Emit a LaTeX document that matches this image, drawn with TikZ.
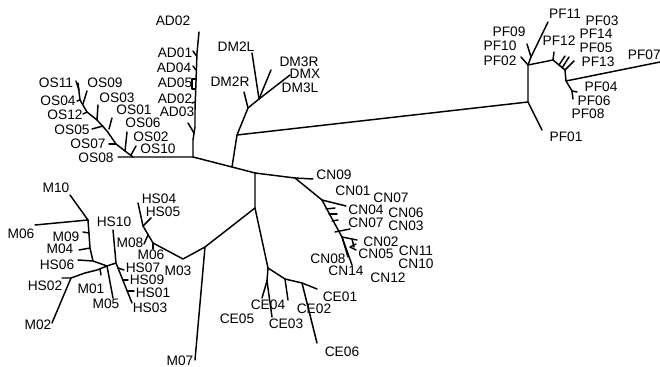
\documentclass[tikz,border=0pt]{standalone}
\usepackage{fontspec}
\newfontfamily\lbfont{Liberation Sans}
\begin{document}
\begin{tikzpicture}[x=0.75pt,y=-0.75pt,
  br/.style={line width=1.1pt,line join=round,line cap=round},
  lbl/.style={font=\lbfont\fontsize{10.3}{12}\selectfont,inner sep=0pt}]
\useasboundingbox (0,0) rectangle (660,367);
% ---------- backbone ----------
\coordinate (c1) at (193,157);
\coordinate (c2) at (232,167);
\coordinate (c3) at (255,173);
\coordinate (c4) at (295,178);
\coordinate (tCN09) at (313,179);
\coordinate (osj) at (133,157);
\coordinate (tOS08) at (118,157);
\draw[br] (tOS08) -- (osj) -- (c1) -- (c2) -- (c3) -- (c4) -- (tCN09);
% ---------- AD ----------
\coordinate (a1) at (193,140);
\coordinate (a2) at (195,127);
\coordinate (a3) at (195,110);
\coordinate (a4) at (197,53);
\coordinate (tAD02a) at (199,32);
\draw[br] (c1) -- (a1) -- (a2) -- (a3) -- (a4) -- (tAD02a);
\coordinate (bAD01) at (196.5,56); \coordinate (tAD01) at (193,51);
\coordinate (bAD04) at (196,70); \coordinate (tAD04) at (193,66);
\coordinate (bAD05a) at (195.5,79); \coordinate (kAD05a) at (192,79);
\coordinate (kAD05b) at (192,89); \coordinate (bAD05b) at (195.5,89);
\coordinate (bAD02) at (195,102); \coordinate (tAD02) at (192,103);
\coordinate (bAD03) at (194,133); \coordinate (tAD03) at (188,123);
\draw[br] (bAD01) -- (tAD01);
\draw[br] (bAD04) -- (tAD04);
\draw[br] (bAD05a) -- (kAD05a) -- (kAD05b) -- (bAD05b);
\draw[br] (bAD02) -- (tAD02);
\draw[br] (bAD03) -- (tAD03);
\node[lbl] (lAD02a) at (173,21) {AD02};
\node[lbl] (lAD01) at (175,53) {AD01};
\node[lbl] (lAD04) at (174,68) {AD04};
\node[lbl] (lAD05) at (175,83) {AD05};
\node[lbl] (lAD02) at (175,99) {AD02};
\node[lbl] (lAD03) at (177,112) {AD03};
% ---------- DM ----------
\coordinate (dm1) at (237,135);
\coordinate (dm2) at (248,108);
\coordinate (dm3) at (259,99);
\coordinate (tDM2R) at (244,92);
\coordinate (tDM2L) at (252,53);
\coordinate (tDM3R) at (271,70);
\coordinate (tDMX) at (290,75);
\draw[br] (c2) -- (dm1) -- (dm2) -- (dm3) -- (tDMX);
\draw[br] (dm2) -- (tDM2R);
\draw[br] (dm3) -- (tDM2L);
\draw[br] (dm3) -- (tDM3R);
\node[lbl] (lDM2L) at (236,47) {DM2L};
\node[lbl] (lDM2R) at (230,82) {DM2R};
\node[lbl] (lDM3R) at (299,62) {DM3R};
\node[lbl] (lDMX) at (305,74) {DMX};
\node[lbl] (lDM3L) at (300,88) {DM3L};
% ---------- PF ----------
\coordinate (pfj) at (528,102);
\coordinate (tPF01) at (542,130);
\coordinate (pfa) at (528,65);
\coordinate (pfb) at (531,57);
\coordinate (tPF11) at (548,22);
\coordinate (tPF09) at (527,44);
\coordinate (tPF10) at (521,57);
\coordinate (pfc) at (553,60);
\coordinate (pfd) at (565,70);
\coordinate (pfe) at (566,81);
\coordinate (tPF07) at (660,62);
\coordinate (tPF12) at (554,52);
\coordinate (b1) at (559,65); \coordinate (t1) at (565,56);
\coordinate (b2) at (562,68); \coordinate (t2) at (569,57);
\coordinate (b3) at (565,70); \coordinate (t3) at (574,61);
\coordinate (pff) at (572,91);
\coordinate (tPF04) at (577,92);
\coordinate (tPF06) at (573,99);
\draw[br] (dm1) -- (pfj) -- (tPF01);
\draw[br] (pfj) -- (pfa) -- (pfb) -- (tPF11);
\draw[br] (pfb) -- (tPF09);
\draw[br] (pfa) -- (tPF10);
\draw[br] (pfa) -- (pfc) -- (pfd) -- (pfe) -- (tPF07);
\draw[br] (pfc) -- (tPF12);
\draw[br] (b1) -- (t1);
\draw[br] (b2) -- (t2);
\draw[br] (b3) -- (t3);
\draw[br] (pfe) -- (pff) -- (tPF04);
\draw[br] (pff) -- (tPF06);
\node[lbl] (lPF11) at (565,14) {PF11};
\node[lbl] (lPF03) at (602,21) {PF03};
\node[lbl] (lPF09) at (509,32) {PF09};
\node[lbl] (lPF14) at (596,34) {PF14};
\node[lbl] (lPF10) at (500,46) {PF10};
\node[lbl] (lPF12) at (559,41) {PF12};
\node[lbl] (lPF05) at (596,48) {PF05};
\node[lbl] (lPF02) at (500,61) {PF02};
\node[lbl] (lPF13) at (598,62) {PF13};
\node[lbl,anchor=east] (lPF07) at (661,55) {PF07};
\node[lbl] (lPF04) at (601,87) {PF04};
\node[lbl] (lPF06) at (594,101) {PF06};
\node[lbl] (lPF08) at (588,114) {PF08};
\node[lbl] (lPF01) at (566,137) {PF01};
% ---------- OS ----------
\coordinate (o1) at (125,151);
\coordinate (o2) at (116,144);
\coordinate (o3) at (107,131);
\coordinate (o4) at (97,120);
\coordinate (o5) at (87,112);
\coordinate (o6) at (80,100);
\coordinate (tOS11) at (78,83);
\coordinate (bOS10) at (131,155); \coordinate (tOS10) at (136,146);
\coordinate (tOS02) at (127,132);
\coordinate (tOS07) at (109,144);
\coordinate (bOS01) at (109,129); \coordinate (tOS01) at (112,118);
\coordinate (bOS05) at (103,126); \coordinate (tOS05) at (92,129);
\coordinate (bOS03) at (97,120); \coordinate (tOS03) at (98,105);
\coordinate (tOS12) at (83,114);
\coordinate (bOS09) at (83,104); \coordinate (tOS09) at (87,91);
\coordinate (tOS04) at (77,101);
\coordinate (bOS11) at (79,90); \coordinate (tOS11b) at (76,81);
\draw[br] (osj) -- (o1) -- (o2) -- (o3) -- (o4) -- (o5) -- (o6) -- (tOS11);
\draw[br] (bOS10) -- (tOS10);
\draw[br] (o1) -- (tOS02);
\draw[br] (o2) -- (tOS07);
\draw[br] (bOS01) -- (tOS01);
\draw[br] (bOS05) -- (tOS05);
\draw[br] (bOS03) -- (tOS03);
\draw[br] (o5) -- (tOS12);
\draw[br] (bOS09) -- (tOS09);
\draw[br] (o6) -- (tOS04);
\draw[br] (bOS11) -- (tOS11b);
\node[lbl] (lOS11) at (56,83) {OS11};
\node[lbl] (lOS09) at (105,83) {OS09};
\node[lbl] (lOS04) at (58,101) {OS04};
\node[lbl] (lOS03) at (117,98) {OS03};
\node[lbl] (lOS12) at (65,115) {OS12};
\node[lbl] (lOS01) at (134,110) {OS01};
\node[lbl] (lOS05) at (72,130) {OS05};
\node[lbl] (lOS06) at (143,123) {OS06};
\node[lbl] (lOS02) at (151,137) {OS02};
\node[lbl] (lOS07) at (88,144) {OS07};
\node[lbl] (lOS10) at (158,149) {OS10};
\node[lbl] (lOS08) at (96,158) {OS08};
% ---------- CN ----------
\coordinate (cna) at (322,200);
\coordinate (cnb) at (330,215);
\coordinate (cnc) at (342,237);
\coordinate (tCN08) at (348,257);
\coordinate (tCN14) at (352,265);
\coordinate (tCN01) at (346,206);
\coordinate (k1b) at (326,209); \coordinate (k1t) at (335,208);
\coordinate (k2b) at (329,214); \coordinate (k2t) at (337,214);
\coordinate (k3b) at (332,221); \coordinate (k3t) at (338,220);
\coordinate (bCN07) at (335,232); \coordinate (tCN07) at (350,229);
\coordinate (tCN02) at (357,240);
\coordinate (m1b) at (352,239); \coordinate (m1t) at (354,247);
\coordinate (m2a) at (356,244); \coordinate (m2b) at (350,247); \coordinate (m2c) at (356,250);
\draw[br] (c4) -- (cna) -- (cnb) -- (cnc) -- (tCN08);
\draw[br] (cnc) -- (tCN14);
\draw[br] (cna) -- (tCN01);
\draw[br] (k1b) -- (k1t);
\draw[br] (k2b) -- (k2t);
\draw[br] (k3b) -- (k3t);
\draw[br] (bCN07) -- (tCN07);
\draw[br] (cnc) -- (tCN02);
\draw[br] (m1b) -- (m1t);
\draw[br] (m2a) -- (m2b) -- (m2c);
\node[lbl] (lCN09) at (334,175) {CN09};
\node[lbl] (lCN01) at (353,191) {CN01};
\node[lbl] (lCN07a) at (391,198) {CN07};
\node[lbl] (lCN04) at (366,210) {CN04};
\node[lbl] (lCN06) at (406,213) {CN06};
\node[lbl] (lCN07b) at (366,223) {CN07};
\node[lbl] (lCN03) at (406,226) {CN03};
\node[lbl] (lCN02) at (381,242) {CN02};
\node[lbl] (lCN05) at (376,254) {CN05};
\node[lbl] (lCN11) at (416,251) {CN11};
\node[lbl] (lCN10) at (416,264) {CN10};
\node[lbl] (lCN12) at (388,278) {CN12};
\node[lbl] (lCN08) at (328,259) {CN08};
\node[lbl] (lCN14) at (346,271) {CN14};
% ---------- CE ----------
\coordinate (ce0) at (255,208);
\coordinate (cej) at (268,268);
\coordinate (cem) at (267,281);
\coordinate (cek) at (285,279);
\coordinate (cel) at (302,283);
\coordinate (tCE01) at (317,289);
\coordinate (tCE06) at (317,343);
\coordinate (tCE02) at (288,300);
\coordinate (tCE04) at (262,298);
\coordinate (tCE03) at (272,317);
\draw[br] (c3) -- (ce0) -- (cej) -- (cem) -- (tCE04);
\draw[br] (cem) -- (tCE03);
\draw[br] (cej) -- (cek) -- (cel) -- (tCE01);
\draw[br] (cel) -- (tCE06);
\draw[br] (cek) -- (tCE02);
\node[lbl] (lCE01) at (340,297) {CE01};
\node[lbl] (lCE02) at (314,309) {CE02};
\node[lbl] (lCE04) at (268,305) {CE04};
\node[lbl] (lCE05) at (237,319) {CE05};
\node[lbl] (lCE03) at (286,324) {CE03};
\node[lbl] (lCE06) at (342,352) {CE06};
% ---------- M03 group ----------
\coordinate (mj) at (205,247);
\coordinate (m03j) at (183,259);
\coordinate (tM07) at (195,360);
\coordinate (hsa) at (153,243);
\coordinate (hsb) at (143,226);
\coordinate (tHS04) at (138,203);
\coordinate (tHS05) at (151,218);
\coordinate (tM06b) at (153,249);
\coordinate (bM08) at (148,235); \coordinate (tM08) at (144,244);
\draw[br] (ce0) -- (mj) -- (m03j) -- (hsa) -- (hsb) -- (tHS04);
\draw[br] (mj) -- (tM07);
\draw[br] (hsb) -- (tHS05);
\draw[br] (hsa) -- (tM06b);
\draw[br] (bM08) -- (tM08);
\node[lbl] (lM07) at (180,361) {M07};
\node[lbl] (lM03) at (178,271) {M03};
\node[lbl] (lHS04) at (159,199) {HS04};
\node[lbl] (lHS05) at (163,212) {HS05};
\node[lbl] (lM08) at (130,243) {M08};
\node[lbl] (lM06b) at (151,254.5) {M06};
% ---------- HS / M left group ----------
\coordinate (lj1) at (88,220);
\coordinate (tM10) at (70,195);
\coordinate (tM06) at (35,225);
\coordinate (v1) at (90,248);
\coordinate (v2) at (93,261);
\coordinate (J1) at (107,266);
\coordinate (hsj) at (116,263);
\coordinate (tHS10) at (113,230);
\coordinate (tHS03) at (132,303);
\coordinate (bHS07) at (118,268); \coordinate (tHS07) at (124,270);
\coordinate (bHS09) at (123,280); \coordinate (tHS09) at (128,280);
\coordinate (bHS01) at (127,291); \coordinate (tHS01) at (134,291);
\coordinate (bM09) at (89,233); \coordinate (tM09) at (83,232);
\coordinate (tM04) at (79,250);
\coordinate (tHS06) at (78,260);
\coordinate (w1) at (97,270);
\coordinate (w2) at (85,273);
\coordinate (w3) at (71,278);
\coordinate (tHS02) at (62,278);
\coordinate (tM02) at (52,323);
\coordinate (bM01) at (100,269); \coordinate (tM01) at (101,275);
\coordinate (tM05) at (113,298);
\draw[br] (tM10) -- (lj1) -- (tM06);
\draw[br] (lj1) -- (v1) -- (v2) -- (J1) -- (hsj) -- (tHS03);
\draw[br] (hsj) -- (tHS10);
\draw[br] (bHS07) -- (tHS07);
\draw[br] (bHS09) -- (tHS09);
\draw[br] (bHS01) -- (tHS01);
\draw[br] (bM09) -- (tM09);
\draw[br] (v1) -- (tM04);
\draw[br] (v2) -- (tHS06);
\draw[br] (J1) -- (w1) -- (w2) -- (w3) -- (tHS02);
\draw[br] (w3) -- (tM02);
\draw[br] (bM01) -- (tM01);
\draw[br] (J1) -- (tM05);
\node[lbl] (lM10) at (56,188) {M10};
\node[lbl] (lHS10) at (114,222) {HS10};
\node[lbl] (lM06) at (21,234) {M06};
\node[lbl] (lM09) at (66,237) {M09};
\node[lbl] (lM04) at (60,249) {M04};
\node[lbl] (lHS06) at (57,265) {HS06};
\node[lbl] (lHS07) at (143,268) {HS07};
\node[lbl] (lHS09) at (147,280) {HS09};
\node[lbl] (lHS01) at (153,293) {HS01};
\node[lbl] (lHS03) at (150,308) {HS03};
\node[lbl] (lHS02) at (45,286) {HS02};
\node[lbl] (lM01) at (91,289) {M01};
\node[lbl] (lM05) at (106,304) {M05};
\node[lbl] (lM02) at (38,325) {M02};
\end{tikzpicture}
\end{document}
